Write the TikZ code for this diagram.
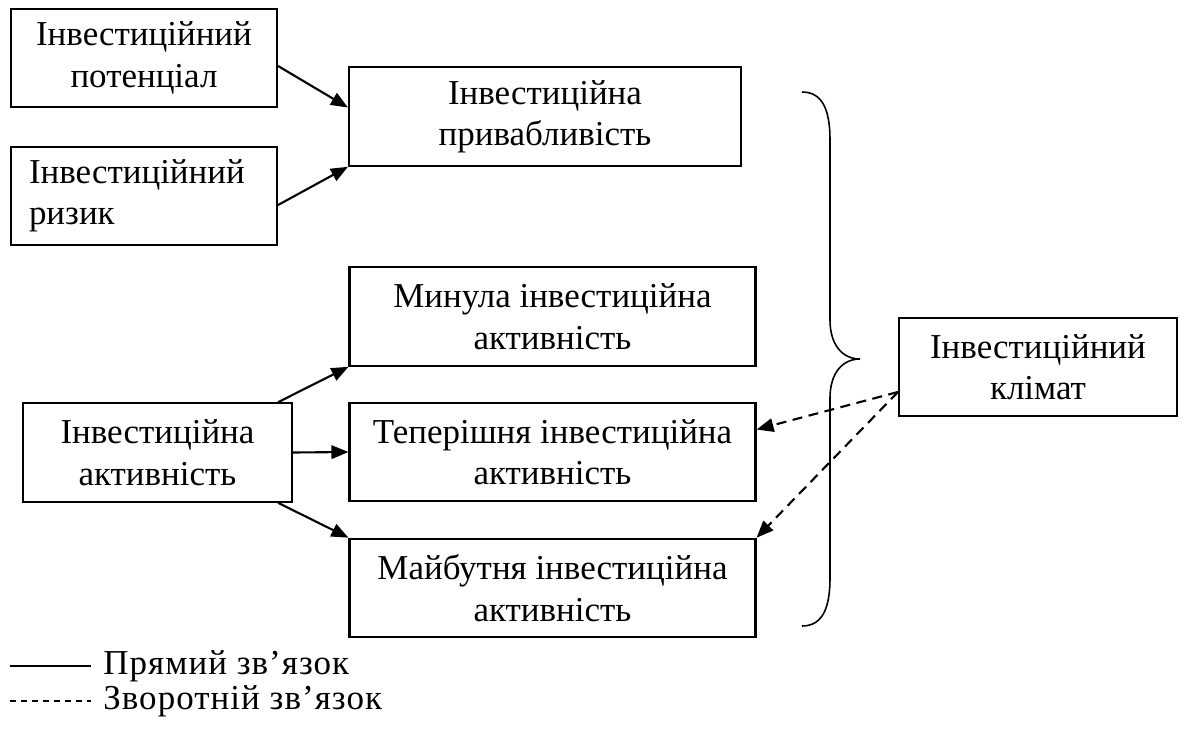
\documentclass[tikz,border=0pt]{standalone}
\usepackage{fontspec}
\setmainfont{Liberation Serif}
\usetikzlibrary{arrows.meta,positioning}

\begin{document}
\begin{tikzpicture}[
    box/.style={draw,line width=1.2pt,minimum height=1.97cm,align=center,inner sep=0pt,font=\fontsize{19.9}{23.6}\selectfont},
    link/.style={-{Triangle[length=0.34cm,width=0.27cm]},line width=1.2pt},
    back/.style={link,dash pattern=on 0.2cm off 0.13cm},
    legend/.style={anchor=base west,inner sep=0pt,font=\fontsize{19.9}{22.2}\selectfont\addfontfeatures{LetterSpace=3}}]
    \useasboundingbox (0,0) rectangle (23.64,-14.72);

    \node [box,minimum width=5.32cm] (potential) at (2.88,-1.16) {Інвестиційний\\потенціал};
    \node [box,minimum width=5.32cm,align=left,text width=4.6cm,inner xsep=0.36cm] (risk) at (2.88,-3.92) {Інвестиційний\\ризик};
    \node [box,minimum width=7.84cm] (appeal) at (10.90,-2.33) {Інвестиційна\\привабливість};

    \node [box,minimum width=5.38cm] (activity) at (3.15,-9.05) {Інвестиційна\\активність};
    \node [box,minimum width=8.12cm] (past) at (11.05,-6.33) {Минула інвестиційна\\активність};
    \node [box,minimum width=8.12cm] (present) at (11.05,-9.04) {Теперішня інвестиційна\\активність};
    \node [box,minimum width=8.12cm] (future) at (11.05,-11.76) {Майбутня інвестиційна\\активність};

    \node [box,minimum width=5.56cm] (climate) at (20.76,-7.34) {Інвестиційний\\клімат};

    \draw [link] ([yshift=-0.16cm]potential.east) -- ([yshift=0.18cm]appeal.west);
    \draw [link] ([yshift=-0.18cm]risk.east) -- (appeal.south west);
    \draw [link] ([xshift=-0.3cm]activity.north east) -- (past.south west);
    \draw [link] (activity.east) -- (present.west);
    \draw [link] ([xshift=-0.3cm]activity.south east) -- (future.north west);
    \draw [back] ([yshift=-0.5cm]climate.west) -- ([yshift=0.45cm]present.east);
    \draw [back] ([yshift=-0.5cm]climate.west) -- (future.north east);

    % brace
    \draw [line width=0.9pt] (16.04,-1.84) .. controls (16.45,-1.84) and (16.6,-2.2) .. (16.6,-2.8)
        -- (16.6,-6.4) .. controls (16.6,-6.9) and (16.85,-7.18) .. (17.2,-7.18)
        .. controls (16.85,-7.18) and (16.6,-7.46) .. (16.6,-7.96)
        -- (16.6,-11.56) .. controls (16.6,-12.16) and (16.45,-12.52) .. (16.04,-12.52);

    % legend
    \draw [line width=0.8pt] (0.2,-13.32) -- (1.82,-13.32);
    \node [legend] (direct) at (2.06,-13.49) {Прямий зв’язок};
    \draw [line width=0.8pt,dash pattern=on 0.12cm off 0.1cm] (0.2,-14.02) -- (1.82,-14.02);
    \node [legend] (feedback) at (2.06,-14.19) {Зворотній зв’язок};
\end{tikzpicture}
\end{document}
